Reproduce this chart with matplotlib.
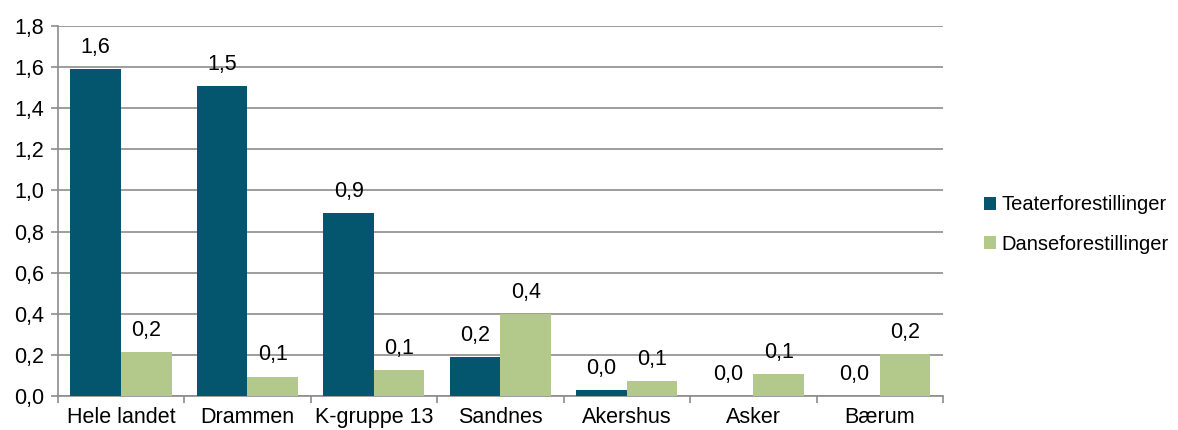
import numpy as np
import matplotlib.pyplot as plt
from matplotlib.ticker import FuncFormatter, FixedLocator

plt.rcParams["font.family"] = ["Liberation Sans", "DejaVu Sans"]
plt.rcParams.update({"font.size": 15.5})

# data
categories = ["Hele landet", "Drammen", "K-gruppe 13", "Sandnes", "Akershus", "Asker", "Bærum"]
teater = [1.59, 1.51, 0.89, 0.19, 0.03, 0.0, 0.0]
danse = [0.215, 0.095, 0.125, 0.40, 0.075, 0.105, 0.205]
series_names = ["Teaterforestillinger", "Danseforestillinger"]

teal = "#04556E"
green = "#B3C98C"
grey = "#8C8C8C"

fig = plt.figure(figsize=(11.78, 4.3), dpi=100)
ax = fig.add_axes([0.049, 0.079, 0.7515, 0.8605])

x = np.arange(len(categories))
w = 0.4
b1 = ax.bar(x - w / 2, teater, w, color=teal, label=series_names[0], zorder=3)
b2 = ax.bar(x + w / 2, danse, w, color=green, label=series_names[1], zorder=3)

comma = lambda v: f"{v:.1f}".replace(".", ",")
for bars, vals in [(b1, teater), (b2, danse)]:
    for rect, v in zip(bars, vals):
        ax.annotate(comma(v), (rect.get_x() + rect.get_width() / 2, v),
                    xytext=(0, 8), textcoords="offset points",
                    ha="center", va="bottom")

ax.set_xlim(-0.5, len(categories) - 0.5)
ax.set_ylim(0, 1.8)
ax.set_yticks(np.arange(0, 1.81, 0.2))
ax.yaxis.set_major_formatter(FuncFormatter(lambda v, p: comma(v)))
ax.yaxis.grid(True, color=grey, linewidth=1.2, zorder=0)

ax.set_xticks(x)
ax.set_xticklabels(categories)
ax.xaxis.set_minor_locator(FixedLocator(np.arange(-0.5, len(categories), 1.0)))
ax.tick_params(axis="x", which="major", length=0, pad=8)
ax.tick_params(axis="x", which="minor", length=5, color=grey, width=1.2)
ax.tick_params(axis="y", length=5, color=grey, width=1.2, pad=5)

for s in ["top", "right"]:
    ax.spines[s].set_visible(False)
for s in ["left", "bottom"]:
    ax.spines[s].set_color(grey)
    ax.spines[s].set_linewidth(1.2)

fig.legend(handles=[b1, b2], loc="center left", bbox_to_anchor=(0.82, 0.478),
           frameon=False, handlelength=0.6, handleheight=0.6, handletextpad=0.25,
           labelspacing=1.0, fontsize=14.5)

fig.savefig("out.png", dpi=100)
